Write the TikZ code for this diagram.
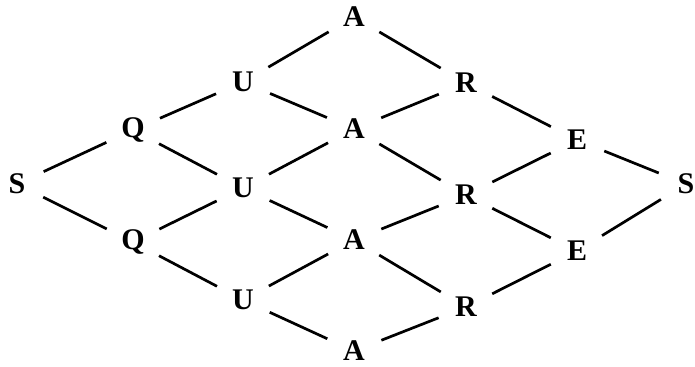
\documentclass[tikz,border=0pt]{standalone}
\usepackage{fontspec}
\setmainfont{Liberation Serif}
\usepackage{tikz}
\tikzstyle{let_n} = [circle, black, align=center, inner sep=0pt, minimum size=29pt, font=\fontsize{15}{17}\selectfont\bfseries, text centered]
\tikzstyle{let_e} = [draw=black, line width=1.35pt]

\begin{document}
\begin{tikzpicture}[x=0.5pt,y=-0.5pt]
\useasboundingbox (0,0) rectangle (695,366);
\node [let_n, name=s 1] at (17,184) {S};
\node [let_n, name=q 1] at (133,130) {Q};
\node [let_n, name=q 2] at (133,242) {Q};
\node [let_n, name=u 1] at (243,82) {U};
\node [let_n, name=u 2] at (243,188) {U};
\node [let_n, name=u 3] at (243,300) {U};
\node [let_n, name=a 1] at (354,17) {A};
\node [let_n, name=a 2] at (354,129) {A};
\node [let_n, name=a 3] at (354,240) {A};
\node [let_n, name=a 4] at (354,351) {A};
\node [let_n, name=r 1] at (466,83) {R};
\node [let_n, name=r 2] at (466,195) {R};
\node [let_n, name=r 3] at (466,307) {R};
\node [let_n, name=e 1] at (577,140) {E};
\node [let_n, name=e 2] at (577,251) {E};
\node [let_n, name=s 2] at (686,184) {S};

\draw [let_e] (s 1) -- (q 1);
\draw [let_e] (s 1) -- (q 2);
\draw [let_e] (q 1) -- (u 1);
\draw [let_e] (q 1) -- (u 2);
\draw [let_e] (q 2) -- (u 2);
\draw [let_e] (q 2) -- (u 3);
\draw [let_e] (u 1) -- (a 1);
\draw [let_e] (u 1) -- (a 2);
\draw [let_e] (u 2) -- (a 2);
\draw [let_e] (u 2) -- (a 3);
\draw [let_e] (u 3) -- (a 3);
\draw [let_e] (u 3) -- (a 4);
\draw [let_e] (a 1) -- (r 1);
\draw [let_e] (a 2) -- (r 1);
\draw [let_e] (a 2) -- (r 2);
\draw [let_e] (a 3) -- (r 2);
\draw [let_e] (a 3) -- (r 3);
\draw [let_e] (a 4) -- (r 3);
\draw [let_e] (r 1) -- (e 1);
\draw [let_e] (r 2) -- (e 1);
\draw [let_e] (r 2) -- (e 2);
\draw [let_e] (r 3) -- (e 2);
\draw [let_e] (e 1) -- (s 2);
\draw [let_e] (e 2) -- (s 2);
\end{tikzpicture}
\end{document}
